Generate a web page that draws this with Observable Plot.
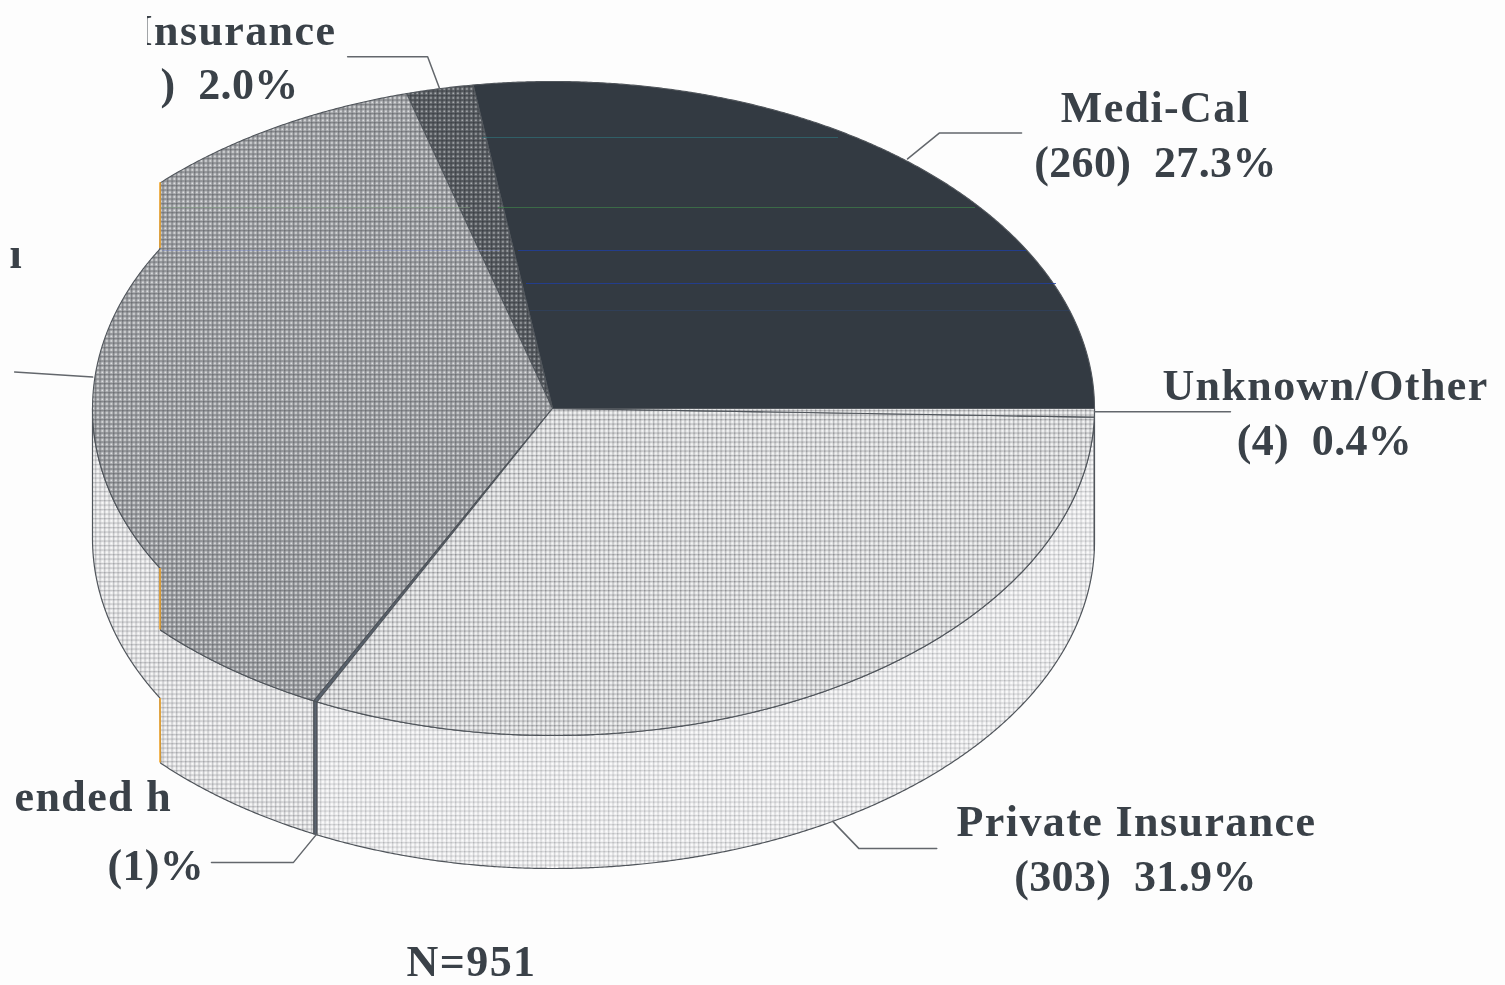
<!DOCTYPE html>
<html><head><meta charset="utf-8">
<script src="https://cdn.jsdelivr.net/npm/d3@7"></script>
<script src="https://cdn.jsdelivr.net/npm/@observablehq/plot@0.6"></script>
<style>
html,body{margin:0;padding:0;background:#fdfdfd;overflow:hidden}
svg{display:block;filter:blur(.45px)}
svg text{letter-spacing:1.4px}
svg .num text, svg text.num, svg .num{letter-spacing:.35px}
</style></head><body>
<script>
// --- data ---
const categories = ["Medi-Cal", "No Insurance", "(label cut off)", "Extended h", "Private Insurance", "Unknown/Other"];
const counts = [260, 19, 364, 1, 303, 4];
const topFills = ["#333a42", "url(#d2)", "url(#d3)", "#59636f", "url(#d4)", "url(#d4)"];
const wallFills = [null, null, "url(#d5)", "#59636f", "url(#d6)", "url(#d6)"];
const total = 951;

// --- pie layout ---
const W = 1505, H = 985;
const cx = 552, cy = 408, rx = 542, rxFrontLeft = 533, ry = 327, depth = 133;
const cutX = 160, stripRx = 460, stripRy = 306, stripDepth = 130;
const ink = "#3a4148", edge = "#50555b";
const rad = d => d * Math.PI / 180;

// rim point at pie angle t (degrees, counter-clockwise from east)
function rim(t) {
  const r = t > 180 && t < 270 ? rxFrontLeft : rx;
  const x = cx + r * Math.cos(rad(t));
  const s = Math.sin(rad(t));
  if (x >= cutX) return {x, y: cy - ry * s, d: depth};
  const xs = 92 + (x - (cx - r)) * (cutX - 92) / (cutX - (cx - r));
  const q = Math.sqrt(Math.max(0, 1 - ((xs - cx) / stripRx) ** 2));
  return {x: xs, y: cy - Math.sign(s) * stripRy * q, d: stripDepth};
}
function rimPath(a, b) {
  const n = Math.max(2, Math.ceil(Math.abs(b - a) / 0.25));
  return d3.range(n + 1).map(i => rim(a + (b - a) * i / n));
}
let acc = 0;
const slices = counts.map((c, i) => {
  const a0 = acc / total * 360; acc += c; const a1 = acc / total * 360;
  return {i, a0, a1, mid: (a0 + a1) / 2};
});
const apex = {x: cx, y: cy};
const topPoly = s => [apex, ...rimPath(s.a0, s.a1), apex];
const wallPoly = (a, b) => {
  const top = rimPath(a, b);
  const bot = top.map(p => ({x: p.x, y: p.y + p.d})).reverse();
  return [...top, ...bot, top[0]];
};

// visible walls: only the front half of the cylinder
const walls = slices.map(s => ({s, a: Math.max(s.a0, 180), b: s.a1})).filter(w => w.b > w.a);

// leaders start at the middle of their slice's rim
const leaders = [
  {s: 0, wall: 0, nudge: [1, -2], rest: [[32, -26], [114, -26]]},
  {s: 1, wall: 0, nudge: [0, 0], rest: [[-12, -32], [-92, -32]]},
  {s: 2, wall: 0, nudge: [-1, -10], rest: [[-78, -5]]},
  {s: 3, wall: 1, nudge: [1, 0], rest: [[-23, 28], [-105, 28]]},
  {s: 4, wall: 1, nudge: [0, 0], rest: [[26, 27], [104, 27]]},
  {s: 5, wall: 0, nudge: [0, -1], rest: [[136, 0]]}
].map(l => {
  const r = rim(slices[l.s].mid);
  const x0 = r.x + l.nudge[0], y0 = r.y + (l.wall ? r.d : 0) + l.nudge[1];
  return [{x: x0, y: y0}, ...l.rest.map(o => ({x: x0 + o[0], y: y0 + o[1]}))];
});

// label text
const nameLines = [
  {t: "Medi-Cal", x: 1155, y: 107},
  {t: "Unknown/Other", x: 1325, y: 385},
  {t: "Private Insurance", x: 1136, y: 821},
  {t: "N=951", x: 471, y: 961}
];
const numberLines = [
  {t: "(260)  27.3%", x: 1155, y: 162},
  {t: "(4)  0.4%", x: 1324, y: 440},
  {t: "(303)  31.9%", x: 1135, y: 876}
];
const startLines = [
  {t: "Insurance", x: 135, y: 30}, {t: "ı", x: 9, y: 253}, {t: "ended h", x: 14, y: 796}
];
const startNumberLines = [
  {t: ")  2.0%", x: 160, y: 84}, {t: "(1)%", x: 107, y: 865}
];
const fringes = (() => {
  const sinAt = r => Math.sqrt(1 - ((cx - cutX) / r) ** 2);
  const q = Math.sqrt(1 - ((cutX - cx) / stripRx) ** 2) * stripRy;
  const upperMain = cy - ry * sinAt(rx), lowerMain = cy + ry * sinAt(rxFrontLeft);
  return [
    {y1: upperMain, y2: cy - q}, {y1: cy + q, y2: lowerMain},
    {y1: cy + q + stripDepth, y2: lowerMain + depth}
  ];
})();
const scanLines = [
  {y: 137, x1: 482, x2: 838, c: "#2f6f78", o: 0.7},
  {y: 207, x1: 498, x2: 975, c: "#3f7f4a", o: 0.7},
  {y: 250, x1: 518, x2: 1026, c: "#1f3f9f", o: 0.8},
  {y: 283, x1: 526, x2: 1056, c: "#1f3f9f", o: 0.8},
  {y: 310, x1: 530, x2: 1070, c: "#2a4a80", o: 0.35},
  {y: 207, x1: 162, x2: 470, c: "#7fa07f", o: 0.5},
  {y: 250, x1: 162, x2: 500, c: "#6f7fc0", o: 0.5}
];

// halftone screens: a grid with darker crossings and small light centres
function screen(id, base, line, node, nodeR, light, lightR) {
  const s = 4.5;
  return `<pattern id="${id}" width="${s}" height="${s}" patternUnits="userSpaceOnUse">
    <rect width="${s}" height="${s}" fill="${base}"/>
    <rect width="${s}" height="1.2" fill="${line}"/><rect width="1.2" height="${s}" fill="${line}"/>
    <circle cx="0.6" cy="0.6" r="${nodeR}" fill="${node}"/>
    <circle cx="2.85" cy="2.85" r="${lightR}" fill="${light}"/></pattern>`;
}
const defsMark = () => d3.create("svg:defs").html(
  screen("d2", "#63676c", "#4a4e53", "#3c4046", 0.9, "#b5b8bb", 0.85) +
  screen("d3", "#abadb0", "#85878b", "#6d7074", 0.9, "#e9eaeb", 0.8) +
  screen("d4", "#e3e4e5", "#bcbdbf", "#8e8f93", 0.85, "#f6f6f6", 1) +
  screen("d5", "#e9e9ea", "#c6c7c9", "#a5a6a9", 0.8, "#fafafa", 1) +
  screen("d6", "#f1f1f2", "#d4d5d7", "#b4b5b8", 0.75, "#fdfdfd", 1)
).node();

const textStyle = {fontFamily: "'Liberation Serif', serif", fontWeight: 700, fontSize: 44, fill: ink};
const textMark = (rows, anchor, cls) => Plot.text(rows, {x: "x", y: "y", text: "t", textAnchor: anchor, className: cls, ...textStyle});

const chart = Plot.plot({
  width: W, height: H, margin: 0,
  x: {domain: [0, W], range: [0, W], axis: null},
  y: {domain: [0, H], range: [0, H], axis: null},
  style: {background: "#fdfdfd"},
  marks: [
    defsMark,
    ...walls.map(w => Plot.line(wallPoly(w.a, w.b), {x: "x", y: "y", fill: wallFills[w.s.i], stroke: edge, strokeWidth: 1.2})),
    ...slices.map(s => Plot.line(topPoly(s), {x: "x", y: "y", fill: topFills[s.i], stroke: edge, strokeWidth: 1.1})),
    ...scanLines.map(l => Plot.ruleY([l], {y: "y", x1: "x1", x2: "x2", stroke: "c", strokeOpacity: l.o, strokeWidth: 1})),
    Plot.ruleX(fringes, {x: () => cutX - 0.5, y1: "y1", y2: "y2", stroke: "#f2a72e", strokeWidth: 1.6}),
    ...leaders.map(l => Plot.line(l, {x: "x", y: "y", stroke: "#63676c", strokeWidth: 1.5})),
    textMark(nameLines, "middle"),
    textMark(numberLines, "middle", "num"),
    textMark(startLines, "start"),
    textMark(startNumberLines, "start", "num"),
    // the scan's trim cuts off the first letter of this label
    Plot.rect([{x1: 120, x2: 147, y1: 5, y2: 60}], {x1: "x1", x2: "x2", y1: "y1", y2: "y2", fill: "#fdfdfd"})
  ]
});
document.body.appendChild(chart);
</script>
</body></html>
